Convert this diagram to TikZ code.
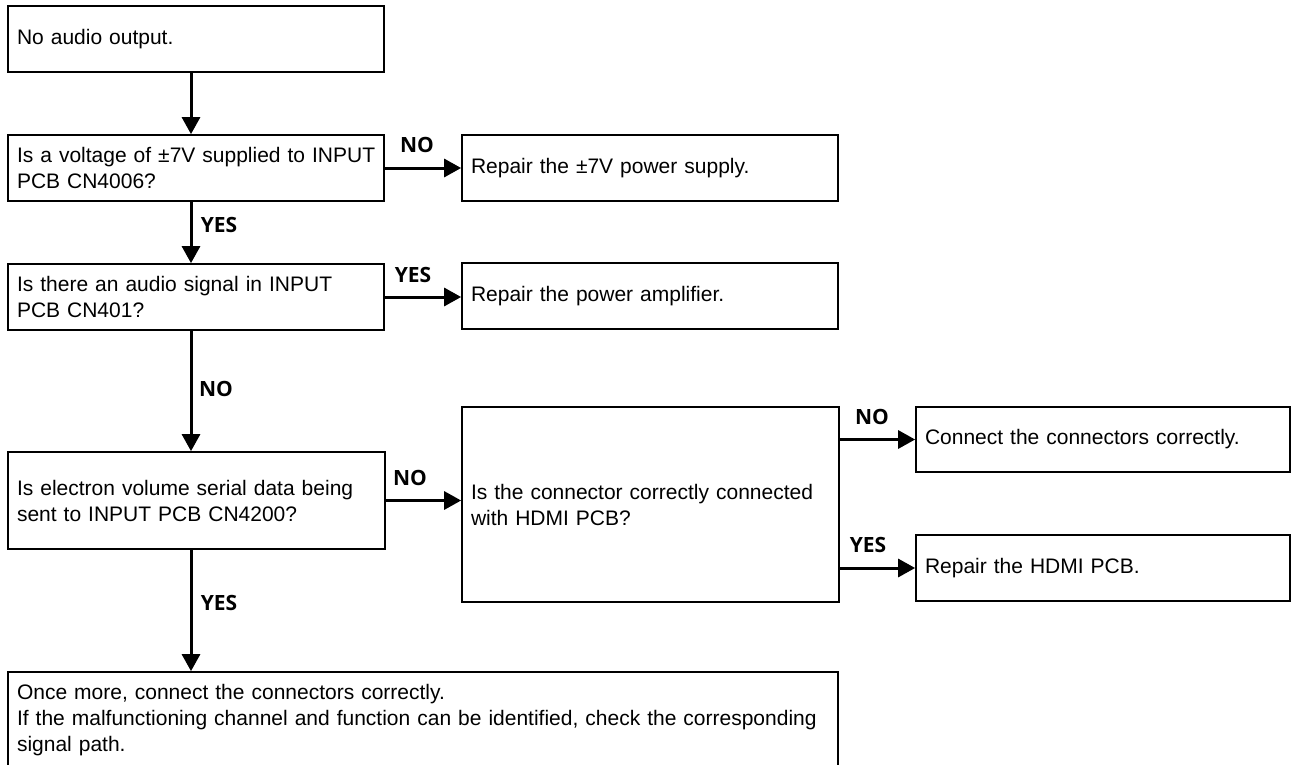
\documentclass[tikz,border=0pt]{standalone}
\usepackage{fontspec}
\setmainfont{Liberation Sans}
\newfontfamily\lblfont{Open Sans}
\usetikzlibrary{arrows.meta,calc}
\tikzset{
  box/.style={draw=black, line width=1.7pt, rectangle, inner xsep=9pt, inner ysep=0pt, align=left,
    font=\fontsize{21}{26}\selectfont},
  arr/.style={line width=3pt, -{Triangle[width=18pt,length=17pt]}},
  lbl/.style={inner sep=0pt, font=\lblfont\bfseries\fontsize{21}{24}\selectfont}
}
\begin{document}
\begin{tikzpicture}[x=1pt,y=-1pt]
\useasboundingbox (0,0) rectangle (1295,765);
\fill[white] (0,0) rectangle (1295,765);
% left column
\node[box, minimum width=376, minimum height=66, text width=358] (b1) at (196,39) {No audio output.};
\node[box, minimum width=376, minimum height=66, text width=358] (b2) at (196,168) {\mbox{Is a voltage of ±7V supplied to INPUT}\\PCB CN4006?};
\node[box, minimum width=376, minimum height=66, text width=358] (b3) at (196,297) {\mbox{Is there an audio signal in INPUT}\\PCB CN401?};
\node[box, minimum width=377, minimum height=97, text width=359] (b4) at (196.5,500.5) {\mbox{Is electron volume serial data being}\\sent to INPUT PCB CN4200?};
\node[box, minimum width=830, minimum height=96, text width=812] (f) at (423,720) {Once more, connect the connectors correctly.\\\mbox{If the malfunctioning channel and function can be identified, check the corresponding}\\signal path.};
% middle column
\node[box, minimum width=376, minimum height=66, text width=358] (r1) at (650,168) {Repair the ±7V power supply.};
\node[box, minimum width=376, minimum height=66, text width=358] (r2) at (650,296) {Repair the power amplifier.};
\node[box, minimum width=377, minimum height=195, text width=359] (h) at (650.5,504.5) {\mbox{Is the connector correctly connected}\\with HDMI PCB?};
% right column
\node[box, minimum width=374, minimum height=65, text width=356] (c1) at (1103,439.5) {Connect the connectors correctly.};
\node[box, minimum width=374, minimum height=66, text width=356] (c2) at (1103,568) {Repair the HDMI PCB.};
% spine
\coordinate (sp) at (191,0);
% connectors
\draw[arr] (b1.south -| sp) -- (b2.north -| sp);
\draw[arr] (b2.south -| sp) -- (b3.north -| sp);
\draw[arr] (b3.south -| sp) -- (b4.north -| sp);
\draw[arr] (b4.south -| sp) -- (f.north -| sp);
\draw[arr] (b2.east) -- (r1.west);
\draw[arr] (b3.east) -- (b3.east -| r2.west);
\draw[arr] (b4.east) -- (b4.east -| h.west);
\draw[arr] (h.east |- c1.west) -- (c1.west);
\draw[arr] (h.east |- c2.west) -- (c2.west);
% labels
\node[lbl] (l1) at (417,145) {NO};
\node[lbl] (l2) at (219,225) {YES};
\node[lbl] (l3) at (413,275) {YES};
\node[lbl] (l4) at (216,389) {NO};
\node[lbl] (l5) at (410,478) {NO};
\node[lbl] (l6) at (219,603) {YES};
\node[lbl] (l7) at (872,417) {NO};
\node[lbl] (l8) at (868,545) {YES};
\end{tikzpicture}
\end{document}
